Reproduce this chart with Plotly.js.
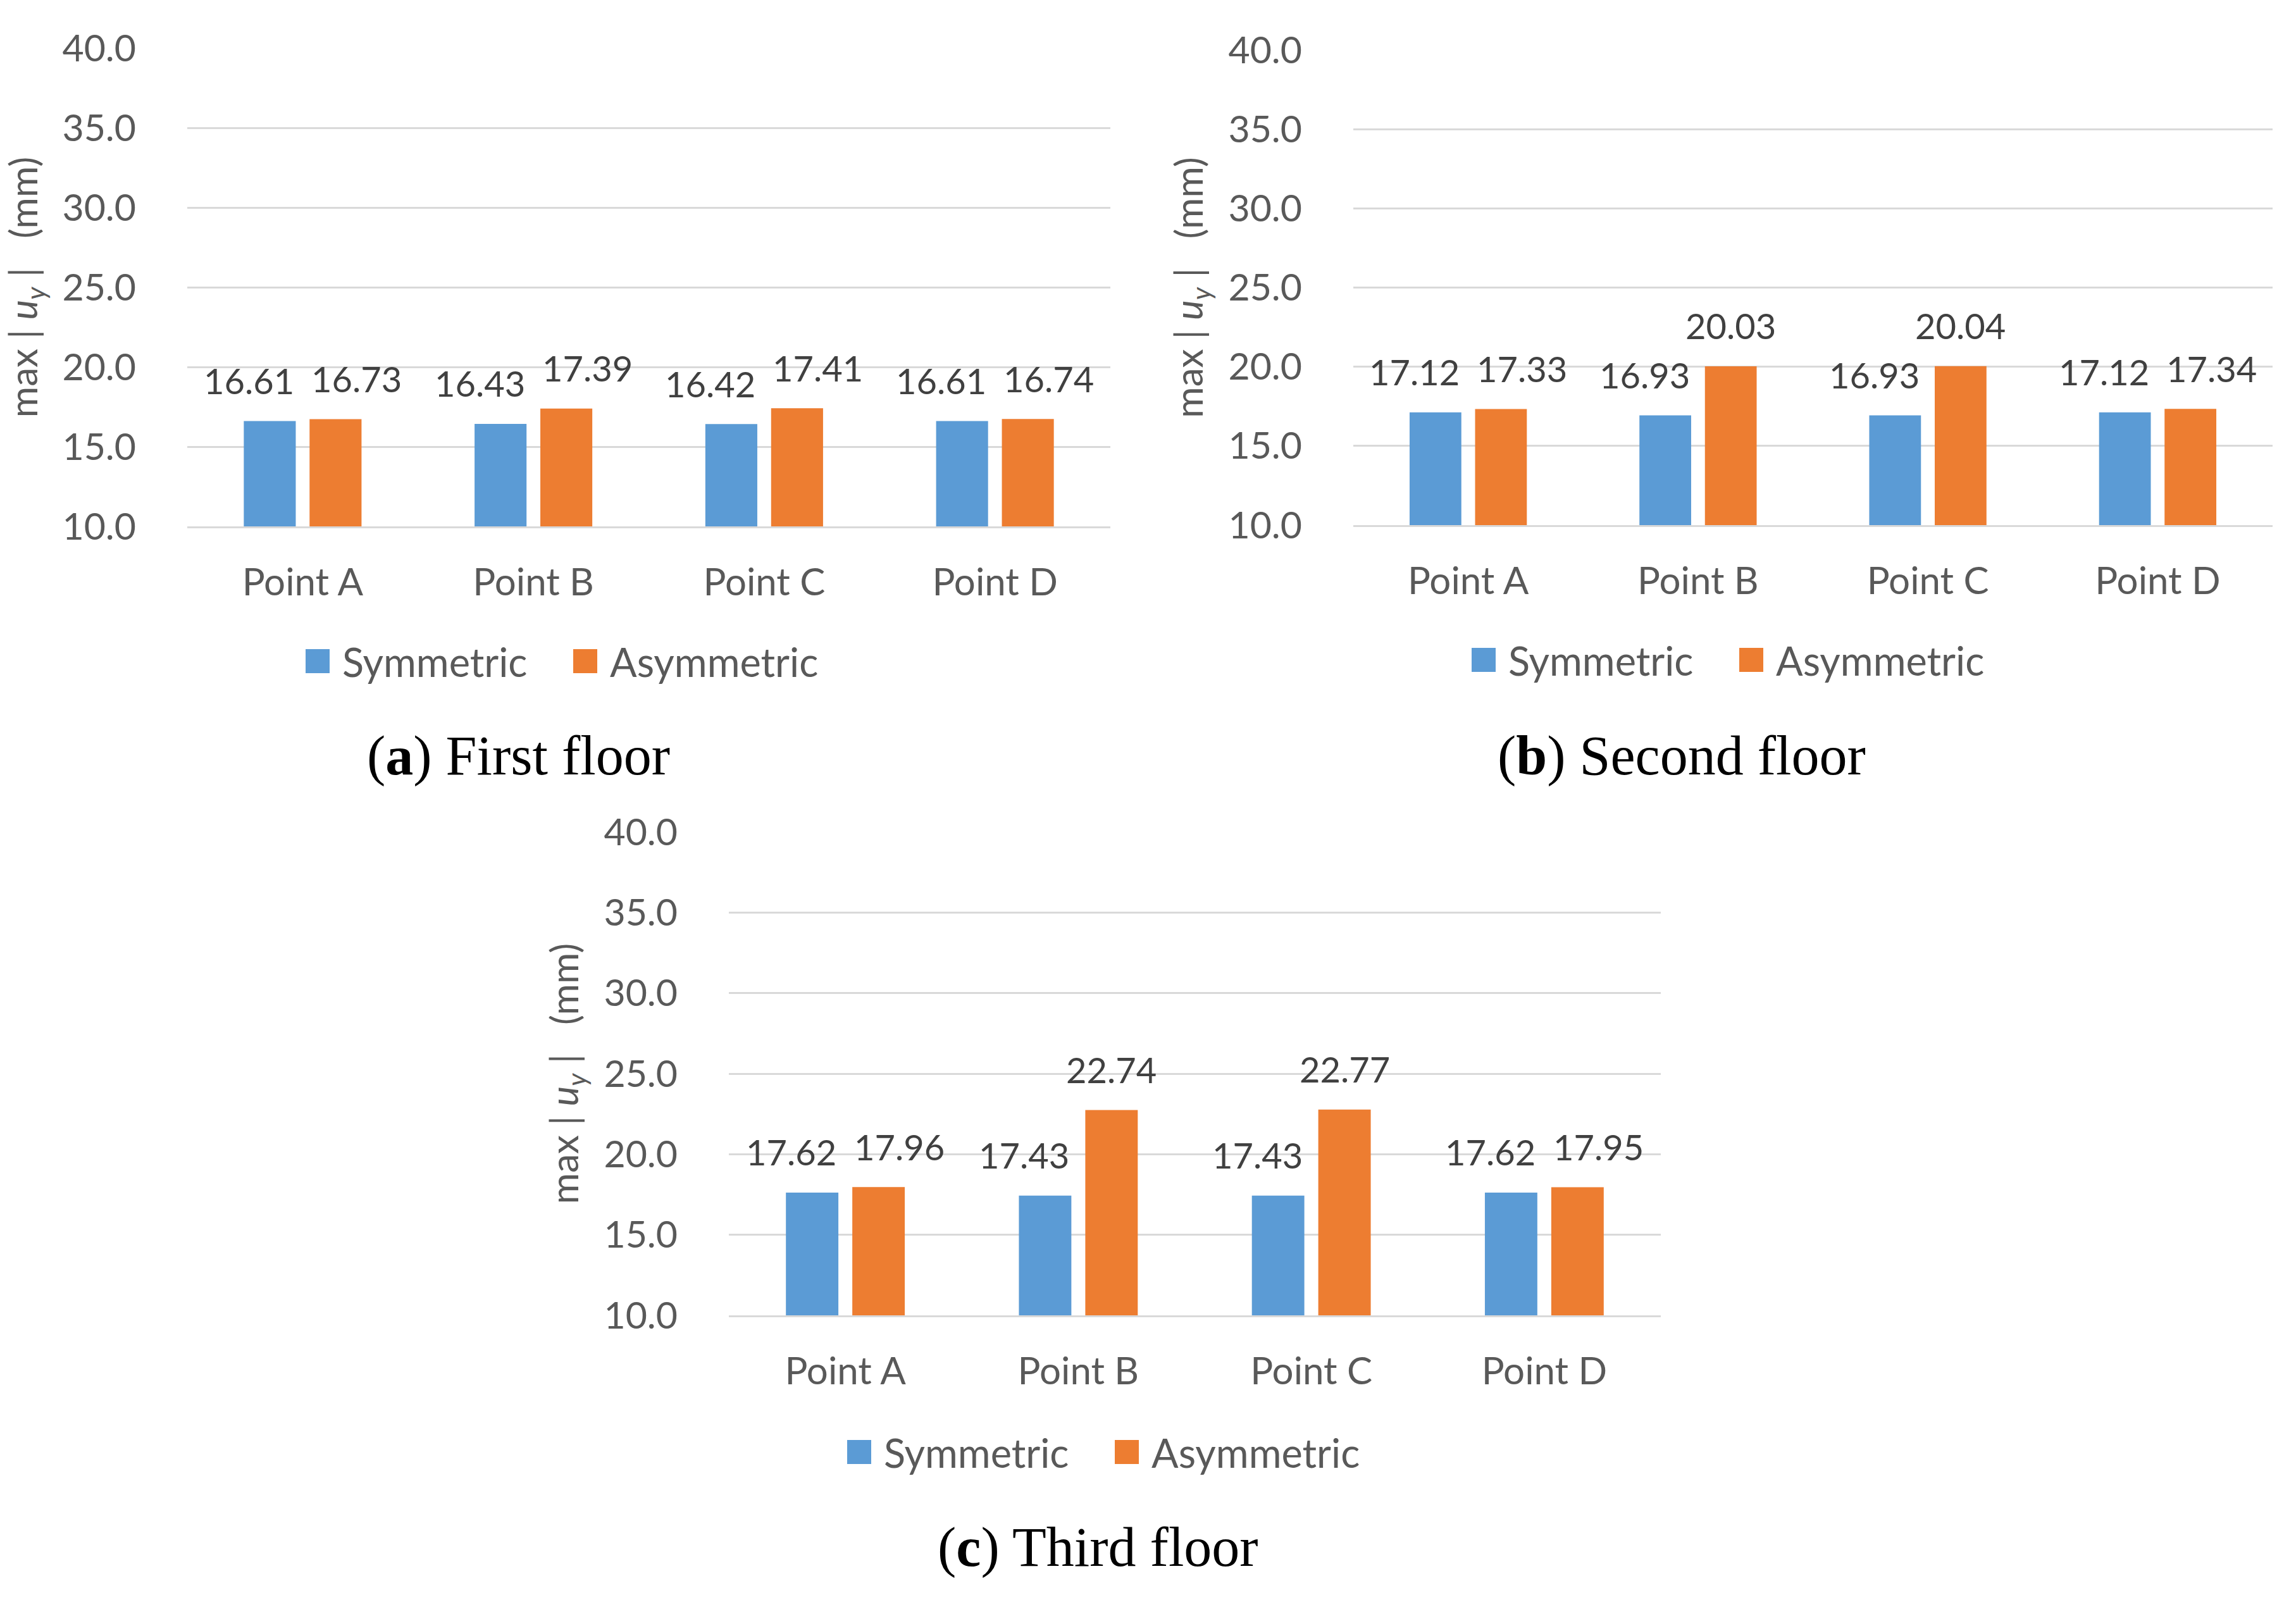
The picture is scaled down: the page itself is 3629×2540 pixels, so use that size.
<!DOCTYPE html>
<html>
<head>
<meta charset="utf-8">
<script src="https://cdn.plot.ly/plotly-3.0.1.min.js"></script>
<style>html,body{margin:0;padding:0;background:#fff;}</style>
</head>
<body>
<div id="chart" style="width:3629px;height:2540px;"></div>
<script>
const categories = ['Point A', 'Point B', 'Point C', 'Point D'];
const seriesNames = ['Symmetric', 'Asymmetric'];
const symFirst = [16.61, 16.43, 16.42, 16.61];
const asymFirst = [16.73, 17.39, 17.41, 16.74];
const symSecond = [17.12, 16.93, 16.93, 17.12];
const asymSecond = [17.33, 20.03, 20.04, 17.34];
const symThird = [17.62, 17.43, 17.43, 17.62];
const asymThird = [17.96, 22.74, 22.77, 17.95];
const yTickVals = [10, 15, 20, 25, 30, 35, 40];
const captionLetters = ['a', 'b', 'c'];
const captionTexts = ['First floor', 'Second floor', 'Third floor'];

const W = 3629, H = 2540;
const BLUE = '#5b9bd5', ORANGE = '#ed7d31';
const FONT = 'Lato, "Open Sans", sans-serif';
const BARGAP = 0.43, GROUPGAP = 0.21;

// panel plot areas (pixel boxes)
const panels = [
  {sym: symFirst, asym: asymFirst, l: 296, r: 1755, t: 76, b: 832, legY: 1045, legX: 463, capX: 819, capY: 1194},
  {sym: symSecond, asym: asymSecond, l: 2139, r: 3592, t: 79, b: 830, legY: 1043, legX: 2306, capX: 2658, capY: 1194},
  {sym: symThird, asym: asymThird, l: 1152, r: 2625, t: 1315, b: 2079, legY: 2295, legX: 1319, capX: 1735, capY: 2445}
];

const data = [];
const layout = {
  width: W, height: H,
  margin: {l: 0, r: 0, t: 0, b: 0},
  paper_bgcolor: '#ffffff', plot_bgcolor: '#ffffff',
  barmode: 'group', bargap: BARGAP, bargroupgap: GROUPGAP,
  font: {family: FONT, color: '#595959', size: 58},
  annotations: [],
  showlegend: true
};

const yTitle = 'max&nbsp;|&nbsp;<i>u</i><sub><i>y</i></sub>&nbsp;|&nbsp;&nbsp;&nbsp;(mm)';

panels.forEach((p, i) => {
  const n = i === 0 ? '' : String(i + 1);
  const xa = 'x' + n, ya = 'y' + n;
  const legKey = 'legend' + n;
  data.push({
    type: 'bar', name: seriesNames[0], x: categories, y: p.sym,
    marker: {color: BLUE}, xaxis: xa, yaxis: ya, legend: legKey, hoverinfo: 'none'
  });
  data.push({
    type: 'bar', name: seriesNames[1], x: categories, y: p.asym,
    marker: {color: ORANGE}, xaxis: xa, yaxis: ya, legend: legKey, hoverinfo: 'none'
  });
  layout['xaxis' + n] = {
    domain: [p.l / W, p.r / W], anchor: ya, type: 'category',
    showgrid: false, zeroline: false, showline: true, linecolor: '#d9d9d9', linewidth: 3,
    ticks: '', ticklabelstandoff: 34,
    tickfont: {family: FONT, size: 60, color: '#595959'}, fixedrange: true
  };
  layout['yaxis' + n] = {
    domain: [1 - p.b / H, 1 - p.t / H], anchor: xa,
    range: [10, 40], tickvals: yTickVals, tickformat: '.1f',
    showgrid: true, gridcolor: '#d9d9d9', gridwidth: 3, zeroline: false, showline: false,
    ticks: '', ticklabelstandoff: 80,
    tickfont: {family: FONT, size: 59, color: '#595959'}, fixedrange: true,
    title: {text: yTitle, font: {family: FONT, size: 60, color: '#595959'}, standoff: 20}
  };
  layout[legKey] = {
    orientation: 'h', x: p.legX / W, xanchor: 'left', y: 1 - p.legY / H, yanchor: 'middle',
    font: {family: FONT, size: 63, color: '#595959'}, bgcolor: 'rgba(0,0,0,0)', itemwidth: 68,
    entrywidth: 340, entrywidthmode: 'pixels',
    traceorder: 'normal'
  };
  // data labels
  const off = (1 - BARGAP) / 4;
  categories.forEach((c, k) => {
    const s = p.sym[k], a = p.asym[k];
    layout.annotations.push({
      x: k - off, y: s, xref: xa, yref: ya, text: s.toFixed(2), showarrow: false,
      xanchor: 'center', yanchor: 'middle', xshift: -33, yshift: 64,
      font: {family: FONT, size: 56, color: '#404040'}
    });
    layout.annotations.push({
      x: k + off, y: a, xref: xa, yref: ya, text: a.toFixed(2), showarrow: false,
      xanchor: 'center', yanchor: 'middle', xshift: (a - s > 1.5) ? 0 : 33, yshift: 64,
      font: {family: FONT, size: 56, color: '#404040'}
    });
  });
  // caption
  layout.annotations.push({
    x: p.capX / W, y: 1 - p.capY / H, xref: 'paper', yref: 'paper',
    text: '(<b>' + captionLetters[i] + '</b>) ' + captionTexts[i], showarrow: false,
    xanchor: 'center', yanchor: 'middle',
    font: {family: '"Liberation Serif", "DejaVu Serif", serif', size: 88, color: '#000000'}
  });
});

Plotly.newPlot('chart', data, layout, {staticPlot: true}).then(gd => {
  gd.querySelectorAll('.legendpoints path').forEach(pth => {
    pth.setAttribute('d', 'M19,19H-19V-19H19Z');
  });
});
</script>
</body>
</html>
